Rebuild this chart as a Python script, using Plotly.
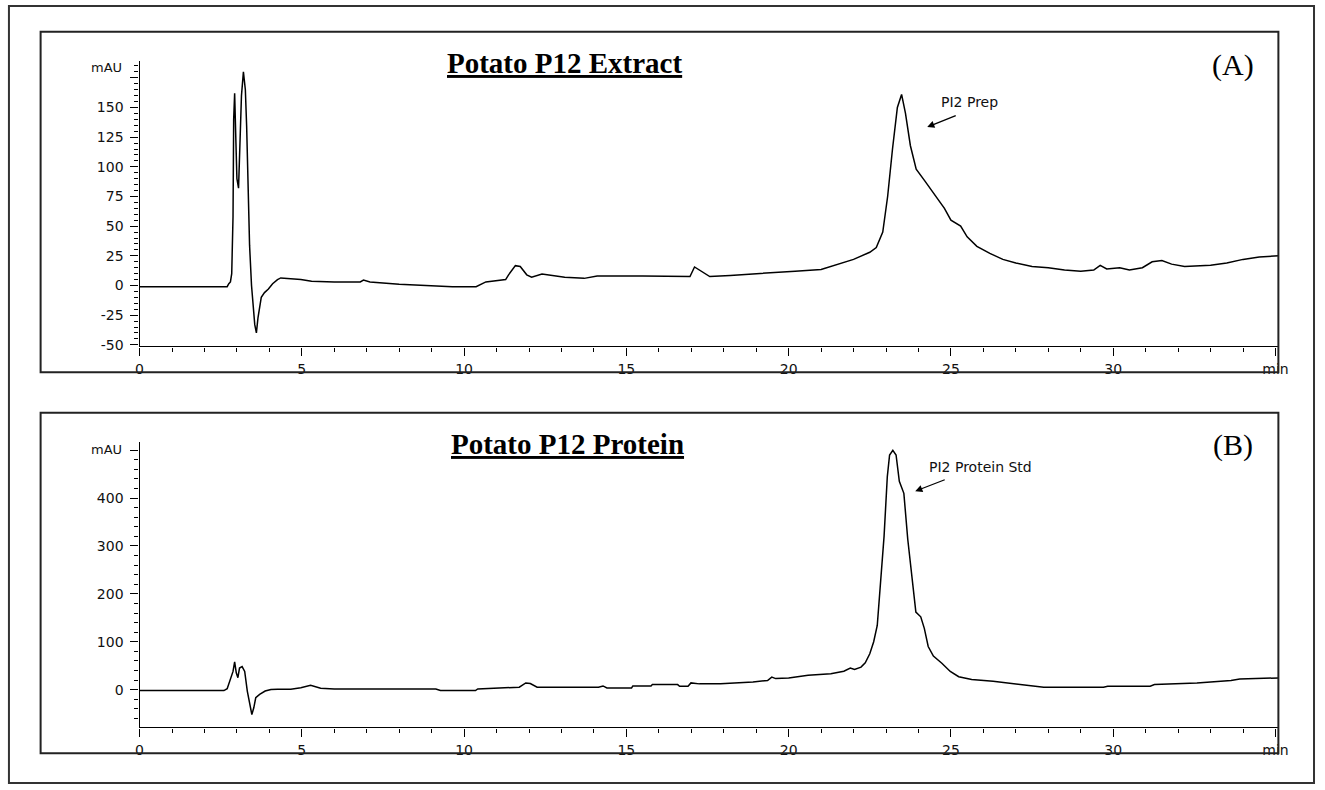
import plotly.graph_objects as go

# ---------------- data ----------------
time_a = [0, 2.7, 2.75, 2.8, 2.84, 2.88, 2.9, 2.93, 2.97, 3.0, 3.05, 3.1, 3.14, 3.2, 3.26,
          3.3, 3.35, 3.39, 3.45, 3.5, 3.55, 3.6, 3.65, 3.75, 3.85, 3.97, 4.1, 4.25, 4.35,
          4.97, 5.3, 6.0, 6.8, 6.9, 7.1, 8.0, 9.0, 9.64, 10.37, 10.67, 11.28, 11.37, 11.58,
          11.73, 11.93, 12.08, 12.4, 13.1, 13.7, 14.1, 15.5, 16.2, 16.96, 17.1, 17.26, 17.57,
          18.2, 19.2, 20.2, 21.0, 21.7, 22.0, 22.5, 22.7, 22.9, 23.05, 23.2, 23.35, 23.48,
          23.6, 23.75, 23.93, 24.2, 24.5, 24.8, 25.0, 25.3, 25.5, 25.8, 26.2, 26.6, 27.0,
          27.5, 28.0, 28.5, 29.0, 29.4, 29.6, 29.8, 30.2, 30.5, 30.9, 31.2, 31.5, 31.8, 32.2,
          33.0, 33.5, 34.0, 34.5, 35.0, 35.1]
signal_a = [-1, -1, 1.5, 3, 10, 58, 140, 162, 120, 90, 82, 130, 160, 180, 165,
            134, 80, 34, 0, -16, -33, -40, -27, -10, -6, -3, 1.5, 5, 6.4,
            5, 3.5, 3, 3, 4.5, 3, 1, 0, -1, -1, 3, 5, 9, 16.7,
            16, 9, 7, 9.7, 7, 6, 8, 8, 8, 7.5, 15.6, 13, 7.5,
            8.5, 10, 12, 13.5, 19, 22, 28, 32, 45, 75, 115, 150, 161,
            145, 118, 98, 88, 77, 65, 55, 50, 41, 33, 27, 22, 19,
            16, 15, 13, 12, 13, 17, 14, 15, 13, 15, 20, 21, 18, 16,
            17, 19, 22, 24, 25, 25]

time_b = [0, 2.6, 2.7, 2.78, 2.88, 2.93, 2.98, 3.03, 3.08, 3.16, 3.24, 3.32, 3.39, 3.46,
          3.52, 3.58, 3.7, 3.87, 4.05, 4.25, 4.66, 4.97, 5.27, 5.58, 6.0, 9.13, 9.27, 10.35,
          10.42, 11.16, 11.7, 11.9, 12.04, 12.25, 14.14, 14.28, 14.4, 15.16, 15.2, 15.76,
          15.8, 16.58, 16.64, 16.9, 16.99, 17.25, 17.9, 18.9, 19.35, 19.48, 19.6, 20.0,
          20.6, 21.3, 21.7, 21.9, 22.03, 22.23, 22.36, 22.5, 22.62, 22.73, 22.84, 22.94,
          23.04, 23.11, 23.21, 23.31, 23.41, 23.55, 23.67, 23.82, 23.92, 24.07, 24.18, 24.3,
          24.46, 24.72, 24.98, 25.24, 25.64, 26.3, 27.08, 27.86, 29.7, 29.83, 31.14, 31.27,
          32.58, 33.63, 33.9, 34.94, 35.1]
signal_b = [-2, -2, 2, 17, 38, 58, 35, 25, 45, 48, 38, -3, -31, -52,
            -38, -17, -10, -3, 0, 1, 1, 4, 9, 3, 1.4, 1.4, -2, -2,
            1.4, 3.5, 5, 14, 12.6, 5, 5, 7.7, 3.5, 3.5, 7.7, 7.7,
            10.5, 10.5, 7, 7, 14, 12, 12, 16, 19, 26, 23, 24.5,
            30, 33, 38.5, 45, 42, 47, 56, 75, 100, 134, 224, 320,
            445, 490, 500, 490, 435, 410, 314, 224, 162, 152, 128, 90,
            70, 55, 38, 27, 21, 17.5, 10.5, 5, 5, 7, 7, 10.5,
            14, 19, 22, 24.5, 24.5]

x_tickvals = [0, 5, 10, 15, 20, 25, 30, 35]
x_ticktext = ["0", "5", "10", "15", "20", "25", "30", "min"]
ya_tickvals = [-50, -25, 0, 25, 50, 75, 100, 125, 150, 175]
ya_ticktext = ["-50", "-25", "0", "25", "50", "75", "100", "125", "150", ""]
yb_tickvals = [0, 100, 200, 300, 400, 500]
yb_ticktext = ["0", "100", "200", "300", "400", ""]

# ---------------- layout helpers ----------------
W, H = 1325, 790


def px(x):
    return x / W


def py(y):
    return (H - y) / H


TICKFONT = dict(family="DejaVu Sans", size=14, color="#111")

fig = go.Figure()
fig.add_trace(go.Scatter(x=time_a, y=signal_a, mode="lines",
                         line=dict(color="black", width=1.5), xaxis="x", yaxis="y",
                         showlegend=False, hoverinfo="skip"))
fig.add_trace(go.Scatter(x=time_b, y=signal_b, mode="lines",
                         line=dict(color="black", width=1.5), xaxis="x2", yaxis="y2",
                         showlegend=False, hoverinfo="skip"))

xcommon = dict(range=[0, 35.09], tickvals=x_tickvals, ticktext=x_ticktext,
               ticks="outside", ticklen=8, tickwidth=1.3, tickcolor="black",
               showline=True, linecolor="black", linewidth=1.4,
               showgrid=False, zeroline=False, tickfont=TICKFONT,
               ticklabelstandoff=2,
               minor=dict(dtick=1, tick0=0, ticks="outside", ticklen=4,
                          tickwidth=1.3, tickcolor="black", showgrid=False))
ycommon = dict(ticks="outside", ticklen=8, tickwidth=1.3, tickcolor="black",
               showline=True, linecolor="black", linewidth=1.4,
               showgrid=False, zeroline=False, tickfont=TICKFONT,
               ticklabelstandoff=4)

fig.update_layout(
    width=W, height=H,
    margin=dict(l=0, r=0, t=0, b=0),
    paper_bgcolor="white", plot_bgcolor="white",
    xaxis=dict(domain=[px(137), px(1288)], anchor="y", **xcommon),
    yaxis=dict(domain=[py(349), py(61)], anchor="x", range=[-51.3, 189.6],
               tickvals=ya_tickvals, ticktext=ya_ticktext,
               minor=dict(dtick=5, tick0=0, ticks="outside", ticklen=4,
                          tickwidth=1.3, tickcolor="black", showgrid=False),
               **ycommon),
    xaxis2=dict(domain=[px(137), px(1288)], anchor="y2", **xcommon),
    yaxis2=dict(domain=[py(733), py(445)], anchor="x2", range=[-79, 518],
                tickvals=yb_tickvals, ticktext=yb_ticktext,
                minor=dict(dtick=20, tick0=0, ticks="outside", ticklen=4,
                           tickwidth=1.3, tickcolor="black", showgrid=False),
                **ycommon),
)

shapes = [
    dict(type="rect", xref="paper", yref="paper", x0=px(5), x1=px(1324), y0=py(789), y1=py(6),
         line=dict(color="#333", width=2), fillcolor="rgba(0,0,0,0)", layer="above"),
    dict(type="rect", xref="paper", yref="paper", x0=px(37), x1=px(1288), y0=py(375), y1=py(32),
         line=dict(color="#222", width=2), fillcolor="rgba(0,0,0,0)", layer="above"),
    dict(type="rect", xref="paper", yref="paper", x0=px(37), x1=px(1288), y0=py(759), y1=py(416),
         line=dict(color="#222", width=2), fillcolor="rgba(0,0,0,0)", layer="above"),
]
fig.update_layout(shapes=shapes)

SERIF = "Liberation Serif"
ann = [
    dict(text="<b><u>Potato P12 Extract</u></b>", x=px(566), y=py(63), xref="paper", yref="paper",
         showarrow=False, xanchor="center", yanchor="middle",
         font=dict(family=SERIF, size=29, color="black")),
    dict(text="<b><u>Potato P12 Protein</u></b>", x=px(570), y=py(447), xref="paper", yref="paper",
         showarrow=False, xanchor="center", yanchor="middle",
         font=dict(family=SERIF, size=29, color="black")),
    dict(text="(A)", x=px(1242), y=py(65), xref="paper", yref="paper",
         showarrow=False, xanchor="center", yanchor="middle",
         font=dict(family=SERIF, size=30, color="black")),
    dict(text="(B)", x=px(1242), y=py(448), xref="paper", yref="paper",
         showarrow=False, xanchor="center", yanchor="middle",
         font=dict(family=SERIF, size=30, color="black")),
    dict(text="mAU", x=px(121), y=py(68), xref="paper", yref="paper",
         showarrow=False, xanchor="right", yanchor="middle",
         font=dict(family="DejaVu Sans", size=13, color="#111")),
    dict(text="mAU", x=px(121), y=py(453), xref="paper", yref="paper",
         showarrow=False, xanchor="right", yanchor="middle",
         font=dict(family="DejaVu Sans", size=13, color="#111")),
    # peak labels
    dict(text="PI2 Prep", x=24.63, y=155, xref="x", yref="y", showarrow=False,
         xanchor="left", yanchor="middle", font=dict(family="DejaVu Sans", size=14, color="#111")),
    dict(text="", x=24.27, y=133.5, xref="x", yref="y", showarrow=True,
         ax=30, ay=-12, arrowhead=2, arrowsize=1.1, arrowwidth=1.3, arrowcolor="black"),
    dict(text="PI2 Protein Std", x=24.27, y=464, xref="x2", yref="y2", showarrow=False,
         xanchor="left", yanchor="middle", font=dict(family="DejaVu Sans", size=14, color="#111")),
    dict(text="", x=23.9, y=414.5, xref="x2", yref="y2", showarrow=True,
         ax=31, ay=-12, arrowhead=2, arrowsize=1.1, arrowwidth=1.3, arrowcolor="black"),
]
fig.update_layout(annotations=ann)

fig.write_html("out.html",
               config={"displayModeBar": False},
               post_script="document.body.style.margin='0';document.body.style.padding='0';")
